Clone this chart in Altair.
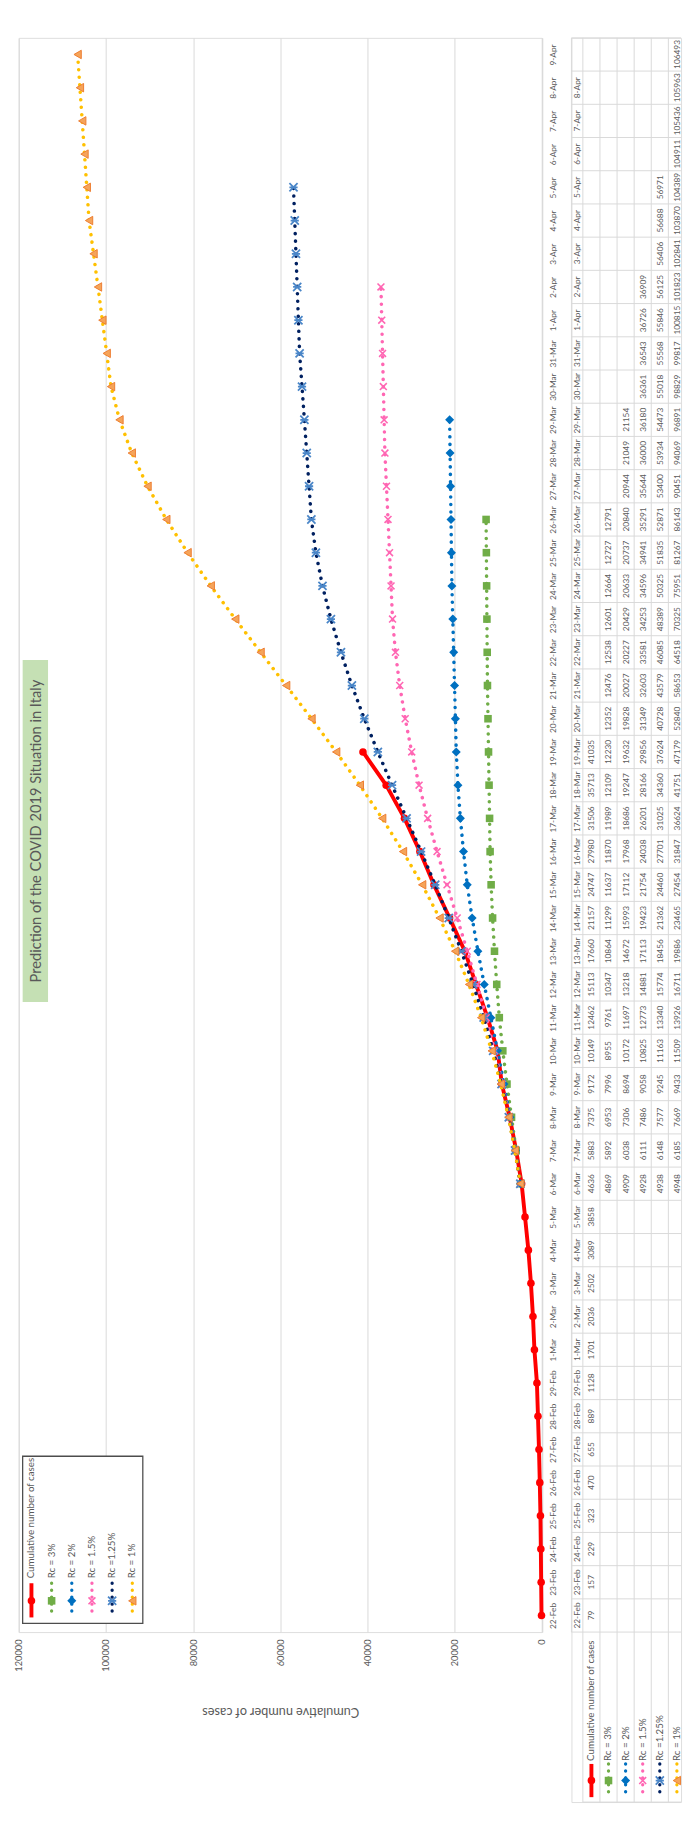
import altair as alt
import pandas as pd

# ---------------- data ----------------
DATES = ["22-Feb", "23-Feb", "24-Feb", "25-Feb", "26-Feb", "27-Feb", "28-Feb", "29-Feb",
         "1-Mar", "2-Mar", "3-Mar", "4-Mar", "5-Mar", "6-Mar", "7-Mar", "8-Mar", "9-Mar",
         "10-Mar", "11-Mar", "12-Mar", "13-Mar", "14-Mar", "15-Mar", "16-Mar", "17-Mar",
         "18-Mar", "19-Mar", "20-Mar", "21-Mar", "22-Mar", "23-Mar", "24-Mar", "25-Mar",
         "26-Mar", "27-Mar", "28-Mar", "29-Mar", "30-Mar", "31-Mar", "1-Apr", "2-Apr",
         "3-Apr", "4-Apr", "5-Apr", "6-Apr", "7-Apr", "8-Apr", "9-Apr"]
TABLE_HEADER = DATES[:-1] + [""]

SERIES = ["Cumulative number of cases", "Rc = 3%", "Rc = 2%", "Rc = 1.5%", "Rc =1.25%", "Rc = 1%"]
SERIES_START = ["22-Feb", "6-Mar", "6-Mar", "6-Mar", "6-Mar", "6-Mar"]

CUMULATIVE = [79, 157, 229, 323, 470, 655, 889, 1128, 1701, 2036, 2502, 3089, 3858, 4636,
              5883, 7375, 9172, 10149, 12462, 15113, 17660, 21157, 24747, 27980, 31506,
              35713, 41035]
RC_3 = [4869, 5892, 6953, 7996, 8955, 9761, 10347, 10864, 11299, 11637, 11870, 11989,
        12109, 12230, 12352, 12476, 12538, 12601, 12664, 12727, 12791]
RC_2 = [4909, 6038, 7306, 8694, 10172, 11697, 13218, 14672, 15993, 17112, 17968, 18686,
        19247, 19632, 19828, 20027, 20227, 20429, 20633, 20737, 20840, 20944, 21049, 21154]
RC_15 = [4928, 6111, 7486, 9058, 10825, 12773, 14881, 17113, 19423, 21754, 24038, 26201,
         28166, 29856, 31349, 32603, 33581, 34253, 34596, 34941, 35291, 35644, 36000,
         36180, 36361, 36543, 36726, 36909]
RC_125 = [4938, 6148, 7577, 9245, 11163, 13340, 15774, 18456, 21362, 24460, 27701, 31025,
          34360, 37624, 40728, 43579, 46085, 48389, 50325, 51835, 52871, 53400, 53934,
          54473, 55018, 55568, 55846, 56125, 56406, 56688, 56971]
RC_1 = [4948, 6185, 7669, 9433, 11509, 13926, 16711, 19886, 23465, 27454, 31847, 36624,
        41751, 47179, 52840, 58653, 64518, 70325, 75951, 81267, 86143, 90451, 94069,
        96891, 98829, 99817, 100815, 101823, 102841, 103870, 104389, 104911, 105436,
        105963, 106493]
VALUES = [CUMULATIVE, RC_3, RC_2, RC_15, RC_125, RC_1]
VALUE_TICKS = [0, 20000, 40000, 60000, 80000, 100000, 120000]
TITLE = "Prediction of the COVID 2019 Situation in Italy"
AXIS_TITLE = "Cumulative number of cases"

# ---------------- styles ----------------
FONT = "Lato"
GREY = "#595959"
GRID = "#d9d9d9"
STYLE = {
    "Cumulative number of cases": dict(line="#ff0000", dash=None, shape="circle", size=60,
                                       filled=True, mfill="#ff0000", mstroke="#ff0000", msw=0),
    "Rc = 3%": dict(line="#70ad47", dash=True, shape="square", size=60,
                    filled=True, mfill="#70ad47", mstroke="#70ad47", msw=0),
    "Rc = 2%": dict(line="#0070c0", dash=True, shape="diamond", size=85,
                    filled=True, mfill="#0070c0", mstroke="#0070c0", msw=0),
    "Rc = 1.5%": dict(line="#ff66b3", dash=True, shape="M-1,-1L1,1M-1,1L1,-1", size=50,
                      filled=False, mfill="#ff66b3", mstroke="#ff66b3", msw=1.6),
    "Rc =1.25%": dict(line="#002060", dash=True, shape="M-1,-1L1,1M-1,1L1,-1M-1,0L1,0", size=70,
                      filled=False, mfill="#4a86c8", mstroke="#4a86c8", msw=1.8),
    "Rc = 1%": dict(line="#ffc000", dash=True, shape="triangle-left", size=75,
                    filled=True, mfill="#f5a45a", mstroke="#ed7d31", msw=1),
}

BAND = 34.0
N = len(DATES)
W_A = 535.5
H_A = BAND * N

rows = []
for s, start, vals in zip(SERIES, SERIES_START, VALUES):
    i0 = DATES.index(start)
    for j, v in enumerate(vals):
        rows.append({"series": s, "idx": i0 + j, "date": DATES[i0 + j], "value": v})
df = pd.DataFrame(rows)


def line_mark(chart, st, width=3.6):
    if st["dash"]:
        return chart.mark_line(color=st["line"], strokeWidth=width, strokeDash=[0.1, 7.6],
                               strokeCap="round")
    return chart.mark_line(color=st["line"], strokeWidth=4, strokeCap="round", strokeJoin="round")


def rule_mark(chart, st):
    if st["dash"]:
        return chart.mark_rule(color=st["line"], strokeWidth=3.4, strokeDash=[0.1, 7],
                               strokeCap="round")
    return chart.mark_rule(color=st["line"], strokeWidth=4)


def point_mark(chart, st):
    if st["filled"]:
        return chart.mark_point(shape=st["shape"], size=st["size"], filled=True, fill=st["mfill"],
                                stroke=st["mstroke"], strokeWidth=st["msw"], opacity=1)
    return chart.mark_point(shape=st["shape"], size=st["size"], filled=False,
                            stroke=st["mstroke"], strokeWidth=st["msw"], opacity=1)


# ---------------- chart A: plot ----------------
x_axis = alt.Axis(values=VALUE_TICKS, format="d", labelAngle=270, labelAlign="right",
                  labelBaseline="middle", labelPadding=7, labelFontSize=9.5, labelColor=GREY,
                  labelFont=FONT, grid=True, gridColor=GRID, gridWidth=1, domain=False,
                  ticks=False, title=AXIS_TITLE, titleAngle=180, titleY=81,
                  titleBaseline="middle", titleFontSize=13, titleFontWeight="normal",
                  titleColor=GREY, titleFont=FONT)
y_axis = alt.Axis(orient="right", labelAngle=270, labelAlign="center", labelBaseline="top",
                  labelPadding=7, labelFontSize=8.5, labelColor=GREY, labelFont=FONT,
                  ticks=False, domain=True, domainColor=GRID, grid=False, title=None,
                  labelOverlap=False)

base = alt.Chart(df).encode(
    x=alt.X("value:Q", scale=alt.Scale(domain=[0, 120000], reverse=True, nice=False),
            axis=x_axis),
    y=alt.Y("date:N", sort=DATES[::-1], scale=alt.Scale(paddingInner=0, paddingOuter=0),
            axis=y_axis),
    order=alt.Order("idx:Q"),
)

layers = []
for s in SERIES:
    st = STYLE[s]
    sub = base.transform_filter(alt.datum.series == s)
    layers.append(line_mark(sub, st))
    layers.append(point_mark(sub, st))

# title box (overlaying plot area, as in Excel)
one = pd.DataFrame({"t": [TITLE]})
layers.append(alt.Chart(one).mark_rect(fill="#c5e0b4").encode(
    x=alt.value(4), x2=alt.value(30), y=alt.value(637), y2=alt.value(987)))
layers.append(alt.Chart(one).mark_text(angle=270, align="center", baseline="middle",
                                       fontSize=15, color=GREY, font=FONT).encode(
    x=alt.value(17.5), y=alt.value(812), text="t:N"))

# legend
LEG_X0, LEG_DX = 13, 20.65
layers.append(alt.Chart(pd.DataFrame({"t": [""]})).mark_rect(
    fill="white", stroke="#4d4d4d", strokeWidth=1.3).encode(
    x=alt.value(4), x2=alt.value(127), y=alt.value(1452), y2=alt.value(1623)))
for k, s in enumerate(SERIES):
    st = STYLE[s]
    px = LEG_X0 + LEG_DX * k
    d1 = alt.Chart(pd.DataFrame({"t": [s]}))
    layers.append(rule_mark(d1, st).encode(x=alt.value(px), y=alt.value(1582), y2=alt.value(1617)))
    layers.append(point_mark(d1, st).encode(x=alt.value(px), y=alt.value(1600)))
    layers.append(d1.mark_text(angle=270, align="left", baseline="middle", fontSize=10,
                               color=GREY, font=FONT).encode(
        x=alt.value(px), y=alt.value(1577), text="t:N"))

chart_a = alt.layer(*layers).properties(width=W_A, height=H_A)

# ---------------- chart B: data table ----------------
ROW_W = 17.5
HDR = 11.7 / ROW_W
LBL = 174.0 / BAND
XMAX = 112.2 / ROW_W - HDR
W_B = (XMAX + HDR) * ROW_W
H_B = (N + LBL) * BAND
XB = alt.Scale(domain=[-HDR, XMAX], nice=False, zero=False)
YB = alt.Scale(domain=[-LBL, N], nice=False, zero=False)


def bx(f="tx"):
    return alt.X(f + ":Q", scale=XB, axis=None)


def by(f="ty"):
    return alt.Y(f + ":Q", scale=YB, axis=None)


hl = [{"tx": -HDR, "tx2": XMAX, "ty": b} for b in range(N + 1)] + \
     [{"tx": 0, "tx2": XMAX, "ty": -LBL}]
vl = [{"tx": -HDR, "ty": 0, "ty2": N}] + [{"tx": r, "ty": -LBL, "ty2": N} for r in range(len(SERIES))]

cells = []
for r, (s, start, vals) in enumerate(zip(SERIES, SERIES_START, VALUES)):
    i0 = DATES.index(start)
    for j, v in enumerate(vals):
        cells.append({"tx": r + 0.5, "ty": i0 + j + 0.5, "txt": str(v)})
hdr = [{"tx": -HDR / 2, "ty": i + 0.5, "txt": d} for i, d in enumerate(TABLE_HEADER)]

b_layers = [
    alt.Chart(pd.DataFrame(hl)).mark_rule(color=GRID, strokeWidth=1).encode(
        x=bx(), x2="tx2:Q", y=by()),
    alt.Chart(pd.DataFrame(vl)).mark_rule(color=GRID, strokeWidth=1).encode(
        x=bx(), y=by(), y2="ty2:Q"),
    alt.Chart(pd.DataFrame(cells)).mark_text(angle=270, align="center", baseline="middle",
                                             fontSize=8.5, color=GREY, font=FONT).encode(
        x=bx(), y=by(), text="txt:N"),
    alt.Chart(pd.DataFrame(hdr)).mark_text(angle=270, align="center", baseline="middle",
                                           fontSize=8.5, color=GREY, font=FONT).encode(
        x=bx(), y=by(), text="txt:N"),
]
KEY_TOP, KEY_BOT, KEY_MID, TXT_START = -3.97, -4.97, -4.47, -3.88
for r, s in enumerate(SERIES):
    st = STYLE[s]
    kd = alt.Chart(pd.DataFrame({"tx": [r + 0.5], "ty": [KEY_TOP], "ty2": [KEY_BOT],
                                 "tm": [KEY_MID], "tt": [TXT_START], "t": [s]}))
    b_layers.append(rule_mark(kd, st).encode(x=bx(), y=by(), y2="ty2:Q"))
    b_layers.append(point_mark(kd, st).encode(x=bx(), y=by("tm")))
    b_layers.append(kd.mark_text(angle=270, align="left", baseline="middle", fontSize=10,
                                 color=GREY, font=FONT).encode(x=bx(), y=by("tt"), text="t:N"))

chart_b = alt.layer(*b_layers).properties(width=W_B, height=H_B)

chart = alt.hconcat(chart_a, chart_b, spacing=578.3 - 13 - W_A, bounds="flush").resolve_scale(
    x="independent", y="independent"
).properties(
    padding={"left": 5, "top": 8, "right": 0, "bottom": 5},
    background="white",
).configure_view(strokeWidth=0).configure(font=FONT)

chart.save("out.html", embed_options={"renderer": "svg", "actions": False})
